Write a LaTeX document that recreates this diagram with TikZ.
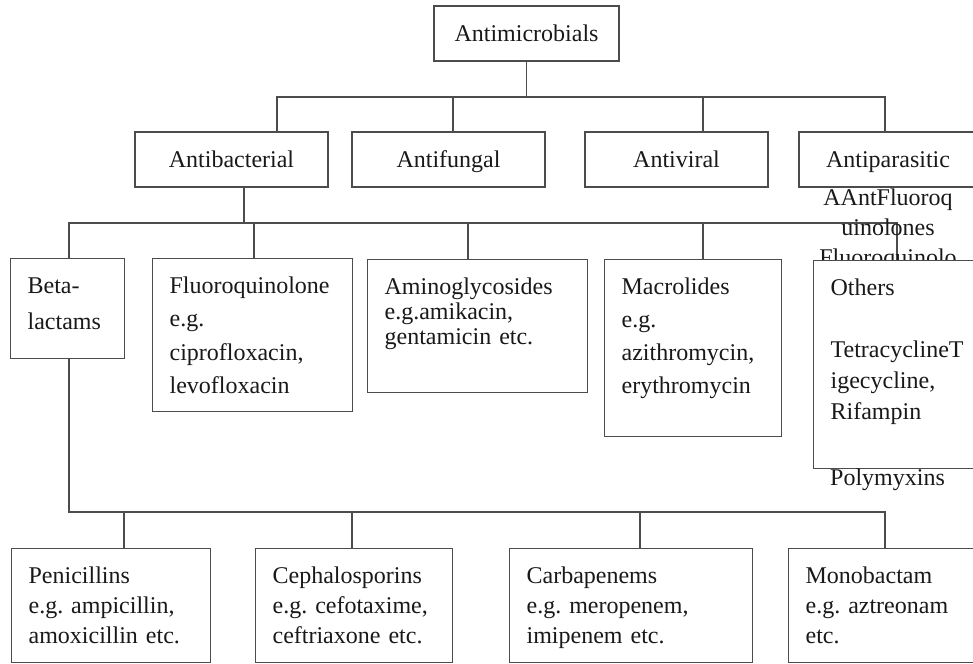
\documentclass[tikz,border=0pt]{standalone}
\usepackage{fontspec}
\setmainfont{Liberation Serif}
\definecolor{ink}{gray}{0.1}
\definecolor{wire}{gray}{0.3}
\tikzset{
  leading/.style={font=\fontsize{24}{#1}\selectfont\frenchspacing},
  catbox/.style={draw=wire, line width=1.2pt, fill=white, inner sep=0pt, minimum height=55pt, text height=16pt, text depth=0pt},
  drugbox/.style={draw=wire, line width=1.2pt, fill=white, anchor=north west, align=left, inner xsep=17pt, inner ysep=18pt, text height=17pt},
  loose/.style={text height=16pt, text depth=0pt},
  wires/.style={draw=wire, line width=1.2pt}
}

\begin{document}
\begin{tikzpicture}[x=1pt,y=-1pt,leading=30pt,text=ink]
  \useasboundingbox (0,0) rectangle (973,663);
  \clip (0,0) rectangle (973,663);

  % top and the four groups
  \node[catbox, minimum width=185pt] (top) at (526.5,33.5) {Antimicrobials};
  \node[catbox, minimum width=193pt] (abac) at (231.5,159.5) {Antibacterial};
  \node[catbox, minimum width=193pt] (afun) at (448.5,159.5) {Antifungal};
  \node[catbox, minimum width=183pt] (avir) at (676.5,159.5) {Antiviral};
  \node[catbox, minimum width=178pt] (apar) at (888,159.5) {Antiparasitic};

  % antibacterial classes
  \node[drugbox, text width=80pt, text depth=47pt, leading=36pt] (beta) at (10,258) {Beta-\\lactams};
  \node[drugbox, text width=166pt, text depth=100pt, leading=33.3pt] (fluo) at (152,258) {Fluoroquinolone\\e.g.\\ciprofloxacin,\\levofloxacin};
  \node[drugbox, text width=186pt, text depth=80pt, leading=25pt] (amin) at (367,259) {Aminoglycosides\\e.g.amikacin,\\gentamicin etc.};
  \node[drugbox, text width=143pt, text depth=124pt, leading=33pt] (macro) at (604,259) {Macrolides\\e.g.\\azithromycin,\\erythromycin};

  % beta-lactam classes
  \node[drugbox, text width=165pt, text depth=61pt] (pen) at (11,548) {Penicillins\\e.g. ampicillin,\\amoxicillin etc.};
  \node[drugbox, text width=163pt, text depth=61pt] (ceph) at (255,548) {Cephalosporins\\e.g. cefotaxime,\\ceftriaxone etc.};
  \node[drugbox, text width=209pt, text depth=61pt] (carb) at (509,548) {Carbapenems\\e.g. meropenem,\\imipenem etc.};
  \node[drugbox, text width=168pt, text depth=61pt] (mono) at (788,548) {Monobactam\\e.g. aztreonam\\etc.};

  % connectors
  \coordinate (d1) at (277,97);
  \coordinate (d2) at (453,97);
  \coordinate (d3) at (703,97);
  \coordinate (d4) at (885,97);
  \draw[wires] (top.south) -- (top.south |- d1);
  \draw[wires] (abac.north -| d1) -- (d1) -- (d4) -- (apar.north -| d4);
  \draw[wires] (d2) -- (afun.north -| d2);
  \draw[wires] (d3) -- (avir.north -| d3);

  \coordinate (e0) at (244,223);
  \coordinate (e1) at (69,223);
  \coordinate (e2) at (254,223);
  \coordinate (e3) at (468,223);
  \coordinate (e4) at (703,223);
  \coordinate (e5) at (897,223);
  \draw[wires] (abac.south -| e0) -- (e0);
  \draw[wires] (beta.north -| e1) -- (e1) -- (e5) -- (e5 |- 0,260);
  \draw[wires] (e2) -- (fluo.north -| e2);
  \draw[wires] (e3) -- (amin.north -| e3);
  \draw[wires] (e4) -- (macro.north -| e4);

  \coordinate (f0) at (69,512);
  \coordinate (f1) at (124,512);
  \coordinate (f2) at (352,512);
  \coordinate (f3) at (640,512);
  \coordinate (f4) at (885,512);
  \draw[wires] (beta.south -| f0) -- (f0) -- (f4) -- (mono.north -| f4);
  \draw[wires] (f1) -- (pen.north -| f1);
  \draw[wires] (f2) -- (ceph.north -| f2);
  \draw[wires] (f3) -- (carb.north -| f3);

  % overflowing text on the right
  \node[align=center, inner sep=0pt] (spill) at (888,230) {AAntFluoroq\\uinolones\\Fluoroquinolo};
  \node[drugbox, text width=153pt, text depth=155pt, leading=31pt] (other) at (813,260) {Others\\[31pt]TetracyclineT\\igecycline,\\Rifampin};
  \node[loose, anchor=west, inner sep=0pt] (poly) at (830,477) {Polymyxins};
\end{tikzpicture}
\end{document}
